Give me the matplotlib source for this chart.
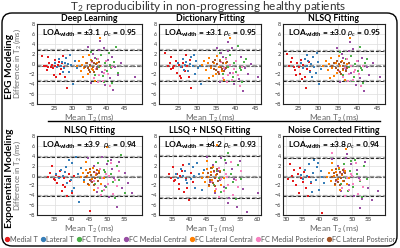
import matplotlib
matplotlib.use("Agg")
import matplotlib.pyplot as plt
from matplotlib.patches import FancyBboxPatch
from matplotlib.lines import Line2D

plt.rcParams['font.family'] = ['Lato', 'DejaVu Sans']
plt.rcParams['mathtext.fontset'] = 'custom'
plt.rcParams['mathtext.rm'] = 'Lato'
plt.rcParams['mathtext.it'] = 'Lato:italic'
plt.rcParams['mathtext.bf'] = 'Lato:bold'
plt.rcParams['mathtext.fallback'] = 'stixsans'

region_names = ["Medial T", "Lateral T", "FC Trochlea", "FC Medial Central",
                "FC Lateral Central", "FC Medial Posterior", "FC Lateral Posterior"]
region_colors = ["#e41a1c", "#377eb8", "#4daf4a", "#984ea3", "#ff7f00", "#f781bf", "#a65628"]

panel_titles = ["Deep Learning", "Dictionary Fitting", "NLSQ Fitting",
                "NLSQ Fitting", "LLSQ + NLSQ Fitting", "Noise Corrected Fitting"]
row_labels = ["EPG Modeling", "Exponential Modeling"]
loa_text = ["±3.1", "±3.1", "±3.0", "±3.9", "±4.2", "±3.8"]
rho_text = ["0.95", "0.95", "0.95", "0.94", "0.93", "0.94"]
bias = [-0.35, -0.35, -0.3, -0.25, -0.3, -0.25]
upper = [2.8, 2.8, 2.7, 3.7, 4.0, 3.6]
lower = [-3.45, -3.4, -3.3, -4.1, -4.5, -4.1]
xlims = [(20, 50), (20, 46.5), (21, 47), (30, 60), (31, 61), (29, 60)]
xticks = [[25, 30, 35, 40, 45], [25, 30, 35, 40, 45], [25, 30, 35, 40, 45],
          [35, 40, 45, 50, 55], [35, 40, 45, 50, 55, 60], [30, 35, 40, 45, 50, 55]]
yticks = [-8, -6, -4, -2, 0, 2, 4, 6, 8]

# ---- Deep Learning (EPG) ----
dl_x = [
    [21.5, 22.0, 22.5, 22.8, 23.0, 23.0, 23.5, 24.0, 24.2, 24.5, 24.8, 25.0, 25.2, 25.5, 26.0, 26.2, 26.5, 26.8, 27.0, 27.5, 27.8, 28.0, 28.5],
    [25.0, 25.8, 26.3, 26.8, 27.2, 27.5, 27.8, 28.0, 28.3, 28.8, 29.2, 29.5, 29.8, 30.3, 30.8, 31.3],
    [35.5, 36.5, 37.2, 37.8, 38.4, 38.8, 39.0, 39.5, 40.0, 40.5, 40.8, 41.0, 41.5, 42.0, 42.5, 43.0],
    [34.5, 35.5, 36.0, 36.5, 37.0, 37.8, 38.0, 38.5, 39.0, 39.5, 40.2, 40.8, 41.3, 41.8, 42.3, 43.0, 44.0, 48.0],
    [31.5, 32.0, 32.5, 32.8, 33.0, 33.2, 33.5, 34.0, 34.5, 34.8, 35.0, 35.5, 35.8, 36.0, 36.5, 37.0, 38.0],
    [35.2, 35.8, 36.3, 36.8, 37.3, 37.5, 37.8, 38.3, 38.8, 39.0, 39.3, 39.8, 40.3, 40.8, 41.3],
    [33.8, 34.3, 34.5, 34.8, 35.0, 35.2, 35.6, 36.0, 36.2, 36.4, 36.8, 37.2, 37.6, 37.9],
]
dl_y = [
    [1.7, -0.4, -0.3, -1.2, 1.5, -0.6, 0.3, -0.5, -0.1, -0.8, -2.2, -0.3, 0.8, -2.5, -0.2, 0.5, -1.9, -1.0, 0.2, 1.6, -0.5, -2.6, -4.7],
    [0.2, -0.5, 1.0, -0.3, 0.4, -1.6, -0.8, 0.2, 1.3, 0.0, -1.5, 1.8, -0.2, -4.0, 0.6, -0.7],
    [2.5, -2.2, 1.0, -0.5, 1.8, -2.4, -3.5, 0.3, -1.3, 2.2, -0.1, -0.8, -3.8, 0.5, 3.5, -1.8],
    [3.5, -3.8, 2.0, 1.2, -0.8, 2.8, 4.7, -1.6, 3.3, -4.2, 0.8, -2.7, 1.5, -5.2, -0.5, -2.2, 0.2, -2.5],
    [-0.3, 0.6, -1.3, -0.1, 1.4, -2.6, -0.8, 0.2, -2.0, 1.8, -0.4, 0.9, -0.9, -1.2, -3.3, 0.3, 5.3],
    [-1.6, 0.4, -2.8, -0.9, 1.0, -3.6, -2.2, -0.3, -3.3, -1.8, -1.1, 0.6, -2.0, -4.3, -0.6],
    [-0.5, 0.3, -0.8, -1.1, -1.5, -0.2, 0.7, -0.6, 0.2, -1.6, 0.1, -0.9, 0.5, -0.3],
]

# ---- Dictionary Fitting (EPG) ----
dict_x = [
    [21.5, 22.3, 22.8, 23.0, 23.2, 23.6, 24.0, 24.3, 24.8, 25.1, 25.5, 25.6, 25.9, 26.3, 26.7, 27.0, 27.4, 27.8, 28.0, 28.2],
    [25.0, 25.6, 26.2, 26.5, 26.7, 27.1, 27.6, 28.0, 28.4, 28.9, 29.0, 29.3, 29.7, 30.2, 30.6, 31.0],
    [35.8, 36.6, 37.0, 37.3, 37.9, 38.5, 39.0, 39.3, 39.6, 40.1, 40.6, 41.0, 41.2, 41.5, 42.0, 42.6],
    [35.0, 35.8, 36.2, 36.5, 37.2, 37.9, 38.0, 38.4, 39.0, 39.6, 40.1, 40.7, 41.2, 41.7, 42.4, 43.1, 44.0, 45.6],
    [31.2, 31.8, 32.3, 32.7, 33.0, 33.1, 33.5, 33.9, 34.3, 34.7, 35.1, 35.5, 35.9, 36.3, 36.8, 37.3, 38.5],
    [35.5, 36.0, 36.5, 37.0, 37.5, 37.7, 38.0, 38.5, 39.0, 39.2, 39.5, 40.0, 40.5, 41.0, 41.5],
    [33.5, 34.0, 34.4, 34.6, 34.8, 35.1, 35.4, 35.6, 35.8, 36.1, 36.3, 36.5, 36.9, 37.3, 37.7],
]
dict_y = [
    [2.2, -0.3, 0.2, -1.0, 1.4, -0.8, -0.4, 0.6, -1.8, -0.2, -2.3, -2.8, -0.6, 0.3, -1.3, 1.9, -0.4, -2.6, 0.9, -4.8],
    [0.3, -0.6, 1.1, -1.2, -0.2, 0.5, -1.4, 0.1, 1.5, -0.4, 1.9, -1.9, 0.7, -0.8, -0.3, -4.0],
    [2.3, -2.0, -1.4, 1.2, -0.6, 1.9, -3.4, -2.6, 0.2, -1.5, 3.6, -0.7, -1.2, -3.6, 0.4, 1.0],
    [3.3, -3.6, 2.2, 1.4, -1.0, 2.6, 4.5, -1.8, 3.2, -4.0, 0.6, -2.9, 1.4, -5.3, -0.7, -2.0, 0.1, -2.6],
    [-0.2, 0.7, -1.2, 0.2, -2.8, 1.3, -0.7, -2.4, 0.3, -1.9, 1.7, -0.5, 0.8, -1.3, -3.2, 0.2, 5.3],
    [-1.5, 0.5, -2.7, -0.8, 1.1, -3.5, -2.1, -0.2, -3.2, -1.7, -1.0, 0.7, -2.1, -4.4, -0.5],
    [-0.4, 0.4, -0.9, 0.8, -1.2, 0.1, -1.6, -2.0, 0.6, -0.5, -1.0, 0.2, -1.4, -0.8, 0.4],
]

# ---- NLSQ Fitting (EPG) ----
nlsq_epg_x = [
    [22.0, 22.6, 23.0, 23.4, 23.8, 24.0, 24.2, 24.6, 25.0, 25.3, 25.7, 25.8, 26.1, 26.5, 26.8, 27.2, 27.6, 28.0],
    [25.5, 26.0, 26.5, 27.0, 27.0, 27.4, 27.8, 28.2, 28.5, 28.6, 29.0, 29.4, 29.7, 29.8, 30.2, 30.6],
    [35.6, 36.4, 37.0, 37.1, 37.7, 38.3, 38.9, 39.1, 39.4, 40.0, 40.5, 41.0, 41.2, 41.5, 42.0, 42.5],
    [34.8, 35.6, 36.0, 36.3, 37.0, 37.7, 38.2, 38.3, 38.9, 39.5, 40.0, 40.6, 41.1, 41.6, 42.3, 43.0, 44.0, 45.8],
    [31.3, 31.9, 32.4, 32.8, 33.1, 33.2, 33.6, 34.0, 34.4, 34.8, 35.2, 35.6, 36.0, 36.4, 36.9, 37.4, 38.0],
    [35.4, 35.9, 36.4, 36.9, 37.4, 37.6, 37.9, 38.4, 38.9, 39.1, 39.4, 39.9, 40.4, 40.9, 41.4],
    [33.6, 34.1, 34.5, 34.7, 34.9, 35.2, 35.5, 35.7, 35.9, 36.2, 36.4, 36.6, 37.0, 37.4, 37.8],
]
nlsq_epg_y = [
    [2.1, -0.3, 0.4, 1.2, -0.6, -1.1, -2.2, 0.2, -0.5, -1.9, 0.9, -3.0, -0.2, -2.6, -4.7, -0.9, 0.5, -1.3],
    [0.2, -0.7, 1.0, -0.3, 1.9, 0.6, -1.5, 0.0, -2.5, 1.4, -0.5, -1.8, 2.3, 0.5, -3.9, -0.9],
    [2.4, -2.1, -1.3, 1.1, -0.5, 1.7, -3.3, -2.5, 0.1, -1.4, 3.5, -0.8, -1.1, -3.7, 0.3, 1.0],
    [3.2, -3.5, 2.1, 1.3, -0.9, 2.7, 4.4, -1.7, 3.1, -4.1, 0.7, -2.8, 1.3, -5.3, -0.6, -2.1, 0.2, -2.6],
    [-0.3, 0.6, -1.1, 0.1, -2.7, 1.2, -0.8, -2.3, 0.2, -1.8, 1.6, -0.4, 0.7, -1.2, -3.1, 0.1, 5.3],
    [-1.4, 0.4, -2.6, -0.7, 1.0, -3.4, -2.0, -0.3, -3.1, -1.6, -1.1, 0.6, -2.0, -4.3, -0.4],
    [-0.3, 0.3, -0.8, 0.7, -1.1, 0.0, -1.5, -1.9, 0.5, -0.4, -0.9, 0.3, -1.3, -0.7, 0.3],
]

# ---- NLSQ Fitting (Exponential) ----
nlsq_exp_x = [
    [33.0, 33.6, 34.2, 34.8, 35.0, 35.3, 35.8, 36.2, 36.7, 37.1, 37.3, 37.6, 38.0, 38.5, 39.0, 39.5, 40.0, 40.6, 45.0],
    [35.5, 36.2, 36.9, 37.5, 38.0, 38.3, 38.6, 39.1, 39.6, 40.0, 40.1, 40.6, 41.1, 41.6, 42.1, 42.7, 43.3],
    [46.0, 46.7, 47.4, 48.0, 48.6, 49.2, 49.5, 49.8, 50.4, 51.0, 51.6, 52.2, 52.8, 53.4, 54.0, 55.0],
    [44.5, 45.4, 46.2, 47.0, 47.8, 48.6, 49.3, 50.0, 50.7, 51.0, 51.4, 52.1, 52.8, 53.5, 54.3, 55.2, 56.0, 57.0],
    [42.5, 43.0, 43.5, 44.0, 44.0, 44.4, 44.8, 45.2, 45.6, 46.0, 46.4, 46.8, 47.3, 47.8, 48.3, 49.0, 50.0],
    [46.2, 46.8, 47.4, 48.0, 48.3, 48.6, 49.2, 49.8, 50.4, 50.6, 51.0, 51.6, 52.2, 52.8, 53.4],
    [44.0, 44.5, 44.7, 45.0, 45.2, 45.4, 45.8, 46.2, 46.4, 46.6, 47.0, 47.2, 47.4, 47.8],
]
nlsq_exp_y = [
    [-0.4, 0.6, 1.9, -0.8, -1.0, 0.2, -1.5, -0.3, 0.9, -3.1, -2.0, -0.6, -2.4, -4.1, 0.4, -1.2, -3.6, -0.2, -7.2],
    [0.3, -0.6, 1.2, -0.2, 0.8, 1.8, -1.6, 3.1, -0.9, -3.2, 2.5, -2.5, 3.7, 0.4, -5.3, 1.5, -1.0],
    [1.5, -1.8, 2.6, -0.5, -3.2, 1.1, 0.8, -2.4, 3.0, 0.3, -1.3, -4.5, 2.0, -0.9, 4.2, -3.6],
    [3.5, -1.2, 2.0, -3.3, 0.8, 3.7, -2.1, 2.4, -4.3, 3.2, 1.3, -0.6, -6.3, 2.8, -2.6, 0.5, -1.5, -3.5],
    [-0.4, 0.5, -1.3, 1.2, 2.8, -0.2, -2.0, 0.7, -0.8, 1.6, -3.0, 0.1, -1.1, 0.9, -1.8, -0.5, 5.8],
    [-1.2, 0.6, -2.5, 1.4, -4.0, -0.6, -3.0, 0.3, -1.8, -0.2, 2.6, -3.8, -0.9, -2.2, 1.0],
    [-0.3, 0.5, -1.8, -0.9, 1.4, 0.2, -1.4, 0.8, -2.0, -0.5, 0.3, 1.2, -1.1, 0.6],
]

# ---- LLSQ + NLSQ Fitting (Exponential) ----
llsq_x = [
    [34.0, 34.6, 35.2, 35.5, 35.8, 36.3, 36.8, 37.0, 37.3, 37.8, 38.0, 38.3, 38.8, 39.3, 39.8, 40.4, 41.0],
    [36.0, 36.7, 37.4, 38.0, 38.6, 39.0, 39.2, 39.8, 40.4, 41.0, 41.2, 41.6, 42.2, 42.8, 43.5, 44.2],
    [46.5, 47.2, 47.9, 48.0, 48.6, 49.3, 50.0, 50.3, 50.7, 51.4, 52.1, 52.8, 53.5, 54.3, 55.0],
    [45.0, 45.9, 46.8, 47.6, 48.4, 48.8, 49.2, 50.0, 50.8, 51.2, 51.6, 52.4, 53.2, 54.0, 54.8, 55.8, 57.0, 60.0],
    [43.5, 44.0, 44.5, 45.0, 45.0, 45.4, 45.8, 46.2, 46.6, 47.0, 47.4, 47.8, 48.0, 48.3, 48.8, 49.3, 50.0],
    [46.5, 47.2, 47.9, 48.6, 48.7, 49.3, 50.0, 50.7, 51.0, 51.4, 52.1, 52.8, 53.5, 54.2, 55.0],
    [45.0, 45.5, 45.7, 46.0, 46.2, 46.4, 46.8, 47.2, 47.4, 47.6, 48.0, 48.2, 48.4, 48.8],
]
llsq_y = [
    [0.3, -0.6, 1.8, -1.2, -0.9, 0.4, -1.7, -2.8, -0.2, 1.0, 2.2, -3.3, -0.7, -2.5, -5.0, 0.5, -1.4],
    [0.4, -0.5, 1.3, -0.1, 0.9, -1.0, -1.5, 2.4, -0.8, 1.7, -0.2, -2.6, 2.5, 0.3, -3.0, 1.1],
    [1.6, -1.9, 2.8, 0.9, -0.6, -3.4, 1.2, 3.2, -2.6, 4.5, 0.4, -1.4, -4.7, 2.1, -0.8],
    [3.8, -1.3, 2.2, -3.5, 0.9, -1.0, 3.6, -2.3, 2.6, -5.6, -4.6, 1.4, -0.7, -6.4, 3.0, -2.8, -7.3, -3.6],
    [-0.5, 0.6, -1.4, 1.3, 2.9, -0.3, -2.2, 0.8, -0.9, 1.7, -3.2, 0.2, 6.2, -1.2, 1.0, -1.9, -0.6],
    [-1.3, 0.7, -2.7, 1.5, -4.3, -0.7, -3.2, 0.4, -0.3, -1.9, 2.8, -4.0, -1.0, -2.4, 1.0],
    [-0.3, 0.6, -1.9, -1.0, 1.5, 0.2, -1.5, 0.9, -2.1, -0.5, 0.3, 1.3, -1.2, 0.7],
]

# ---- Noise Corrected Fitting (Exponential) ----
noise_x = [
    [30.5, 31.2, 31.8, 32.0, 32.4, 33.0, 33.5, 34.0, 34.2, 34.5, 35.0, 35.5, 36.0, 36.5, 37.0, 37.6, 41.0],
    [34.5, 35.2, 35.8, 36.4, 37.0, 37.5, 37.7, 38.0, 38.5, 39.0, 39.3, 39.5, 40.0, 40.5, 41.0, 41.6],
    [46.0, 46.7, 47.4, 47.5, 48.1, 48.8, 49.5, 49.8, 50.2, 50.9, 51.6, 52.3, 53.0, 53.7, 54.4],
    [44.0, 45.0, 45.8, 46.6, 47.4, 48.2, 48.5, 49.0, 49.8, 50.6, 51.4, 52.2, 52.5, 53.0, 53.8, 54.8, 56.0, 58.0],
    [42.5, 43.0, 43.5, 44.0, 44.0, 44.4, 44.8, 45.2, 45.6, 46.0, 46.4, 46.8, 47.3, 47.8, 48.0, 48.3, 49.0],
    [44.0, 45.5, 46.2, 46.9, 47.6, 47.8, 48.3, 49.0, 49.7, 50.0, 50.4, 51.1, 51.8, 52.5, 53.2],
    [44.0, 44.5, 44.7, 45.0, 45.2, 45.4, 45.8, 46.2, 46.4, 46.6, 47.0, 47.2, 47.4, 47.8],
]
noise_y = [
    [-0.8, 2.3, -0.2, -1.1, 1.1, -2.0, 0.4, -3.6, 1.5, -0.5, -1.3, 0.8, -2.6, -4.1, -0.3, -1.6, -7.6],
    [0.2, -0.7, 1.2, -0.2, 2.3, -1.4, -3.3, 0.6, 3.1, -0.9, 1.7, 2.6, -2.9, 0.9, -0.4, -1.6],
    [1.4, -1.7, 2.4, 0.8, -0.5, -3.1, 1.0, 2.9, -2.3, 3.2, 0.3, -1.2, -4.3, 1.9, -0.8],
    [3.4, -1.1, 2.0, -3.2, 0.7, 3.5, 4.4, -2.0, 2.3, -4.2, 1.2, -0.6, -6.5, -4.8, 2.7, -2.5, -5.0, -3.2],
    [-0.4, 0.5, -1.2, 1.1, 2.6, -0.2, -2.0, 0.7, -0.8, 1.5, -2.9, 0.1, -1.1, 0.9, 5.3, -1.7, -0.5],
    [4.5, -1.2, 0.6, -2.5, 1.4, -4.1, -0.6, -3.0, 0.3, -0.2, -1.8, 2.5, -3.8, -0.9, -2.3],
    [-0.3, 0.5, -1.8, -0.9, 1.4, 0.2, -1.4, 0.8, -2.0, -0.5, 0.3, 1.2, -1.1, 0.6],
]

panel_x = [dl_x, dict_x, nlsq_epg_x, nlsq_exp_x, llsq_x, noise_x]
panel_y = [dl_y, dict_y, nlsq_epg_y, nlsq_exp_y, llsq_y, noise_y]

W, H = 400, 248
fig = plt.figure(figsize=(W / 100, H / 100), dpi=100)

def fx(px):
    return px / W

def fy(py):
    return 1 - py / H

# outer rounded box
box = FancyBboxPatch((fx(2), fy(246)), fx(395), (246 - 13) / H,
                     boxstyle="round,pad=0,rounding_size=0.025",
                     transform=fig.transFigure, fill=False, edgecolor="black", lw=1.0,
                     mutation_aspect=W / H)
fig.patches.append(box)

fig.text(0.52, fy(7), r"T$_2$ reproducibility in non-progressing healthy patients",
         ha="center", va="center", fontsize=8.5, color="#333333")

col_lr = [(37, 142), (159, 261), (283, 385)]
row_tb = [(24, 104), (136, 215)]

for i in range(6):
    r, c = divmod(i, 3)
    l, rr = col_lr[c]
    t, b = row_tb[r]
    ax = fig.add_axes([fx(l), fy(b), fx(rr - l), (b - t) / H])
    for k in range(7):
        ax.scatter(panel_x[i][k], panel_y[i][k], s=2.5, marker="s", color=region_colors[k],
                   linewidths=0, zorder=3)
    ax.axhline(upper[i], color="#aaaaaa", lw=1.6, ls=(0, (2, 1)), zorder=2)
    ax.axhline(upper[i], color="#222222", lw=0.7, ls=(0, (3, 2)), zorder=2.5)
    ax.axhline(lower[i], color="#aaaaaa", lw=1.6, ls=(0, (2, 1)), zorder=2)
    ax.axhline(lower[i], color="#222222", lw=0.7, ls=(0, (3, 2)), zorder=2.5)
    ax.axhline(bias[i], color="#999999", lw=1.6, ls=(0, (2, 1)), zorder=2)
    ax.axhline(bias[i], color="#555555", lw=0.6, ls=(0, (3, 2)), zorder=2.5)
    ax.set_xlim(*xlims[i])
    ax.set_ylim(-8, 8)
    ax.set_xticks(xticks[i])
    ax.set_yticks(yticks)
    ax.set_yticklabels([str(v).replace("-", "\u2212") for v in yticks])
    ax.tick_params(axis="both", length=0, pad=1.5, labelsize=4, colors="#333333")
    ax.tick_params(axis="x", labelsize=4.5)
    ax.grid(True, color="#dddddd", lw=0.5, zorder=0)
    ax.set_axisbelow(True)
    for sp in ax.spines.values():
        sp.set_linewidth(0.8)
        sp.set_color("#222222")
    ax.set_title(panel_titles[i], fontsize=6.3, fontweight="bold", pad=2.5)
    ax.set_xlabel(r"Mean T$_2$ (ms)", fontsize=6, color="#666666", labelpad=0.5)
    if c == 0:
        ax.set_ylabel(r"Difference in T$_2$ (ms)", fontsize=5.5, color="#666666")
        ax.yaxis.set_label_coords(-0.135, 0.5)
    ax.text(0.05, 0.95, r"$\mathbf{LOA}_{\mathbf{width}}$" + " = " + loa_text[i],
            transform=ax.transAxes, ha="left", va="top", fontsize=6, fontweight="bold", zorder=5)
    ax.text(0.96, 0.95, r"$\rho_c$" + " = " + rho_text[i],
            transform=ax.transAxes, ha="right", va="top", fontsize=6, fontweight="bold", zorder=5)

# row labels
fig.text(fx(9.5), fy(66), row_labels[0], rotation=90, ha="center", va="center",
         fontsize=7.3, fontweight="bold")
fig.text(fx(9.5), fy(178), row_labels[1], rotation=90, ha="center", va="center",
         fontsize=7.3, fontweight="bold")

# separator line
fig.add_artist(Line2D([fx(48), fx(380)], [fy(121), fy(121)], transform=fig.transFigure,
                      color="black", lw=1.0))

handles = [Line2D([], [], marker="o", ls="", color=region_colors[k], markersize=2.8)
           for k in range(7)]
leg = fig.legend(handles, region_names, loc="center", bbox_to_anchor=(0.5, fy(239)),
                 ncol=7, frameon=False, fontsize=5.2, handletextpad=0.1, columnspacing=0.45,
                 handlelength=0.6, borderpad=0)
for txt in leg.get_texts():
    txt.set_color("#555555")

fig.savefig("out.png", dpi=100)
